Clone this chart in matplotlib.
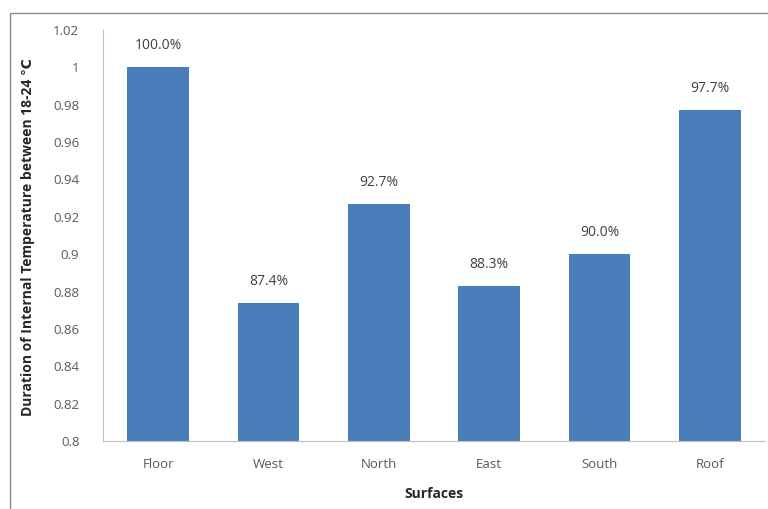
import matplotlib
matplotlib.use("Agg")
import matplotlib.pyplot as plt
from matplotlib.patches import Rectangle

categories = ["Floor", "West", "North", "East", "South", "Roof"]
values = [1.000, 0.874, 0.927, 0.883, 0.900, 0.977]
labels = ["100.0%", "87.4%", "92.7%", "88.3%", "90.0%", "97.7%"]
yticks = [0.8, 0.82, 0.84, 0.86, 0.88, 0.9, 0.92, 0.94, 0.96, 0.98, 1, 1.02]
ytick_labels = ["0.8", "0.82", "0.84", "0.86", "0.88", "0.9", "0.92", "0.94", "0.96", "0.98", "1", "1.02"]

plt.rcParams['font.family'] = ['Open Sans', 'DejaVu Sans']

fig = plt.figure(figsize=(7.68, 5.09), dpi=100)
ax = fig.add_axes([103/768, 1-441/509, 662/768, (441-30)/509])

x = list(range(len(categories)))
ax.bar(x, values, width=0.56, color="#4A7EBB", zorder=2)
ax.set_xlim(-0.5, len(categories) - 0.5)
ax.set_ylim(0.8, 1.02)
ax.set_yticks(yticks)
ax.set_yticklabels(ytick_labels)
ax.set_xticks(x)
ax.set_xticklabels(categories)
ax.tick_params(axis='both', length=0, colors="#595959", labelsize=9.5)
ax.tick_params(axis='y', pad=17)
ax.tick_params(axis='x', pad=12)

for s in ['top', 'right']:
    ax.spines[s].set_visible(False)
for s in ['left', 'bottom']:
    ax.spines[s].set_color("#BFBFBF")
    ax.spines[s].set_linewidth(0.8)

for xi, v, lab in zip(x, values, labels):
    ax.annotate(lab, (xi, v), xytext=(0, 10), textcoords="offset points",
                ha="center", va="bottom", fontsize=10, color="#404040")

ax.set_xlabel("Surfaces", fontsize=10, fontweight="bold", color="#262626", labelpad=12)
fig.text(28/768, 1-237/509, "Duration of Internal Temperature between 18-24 ℃",
         rotation=90, ha="center", va="center", fontsize=10, fontweight="bold", color="#262626")

fig.patches.append(Rectangle((10/768, -0.1), 1.2, 1 - 13/509 + 0.1, transform=fig.transFigure,
                             fill=False, edgecolor="#8C8C8C", linewidth=1.0))

fig.savefig("out.png", dpi=100)
